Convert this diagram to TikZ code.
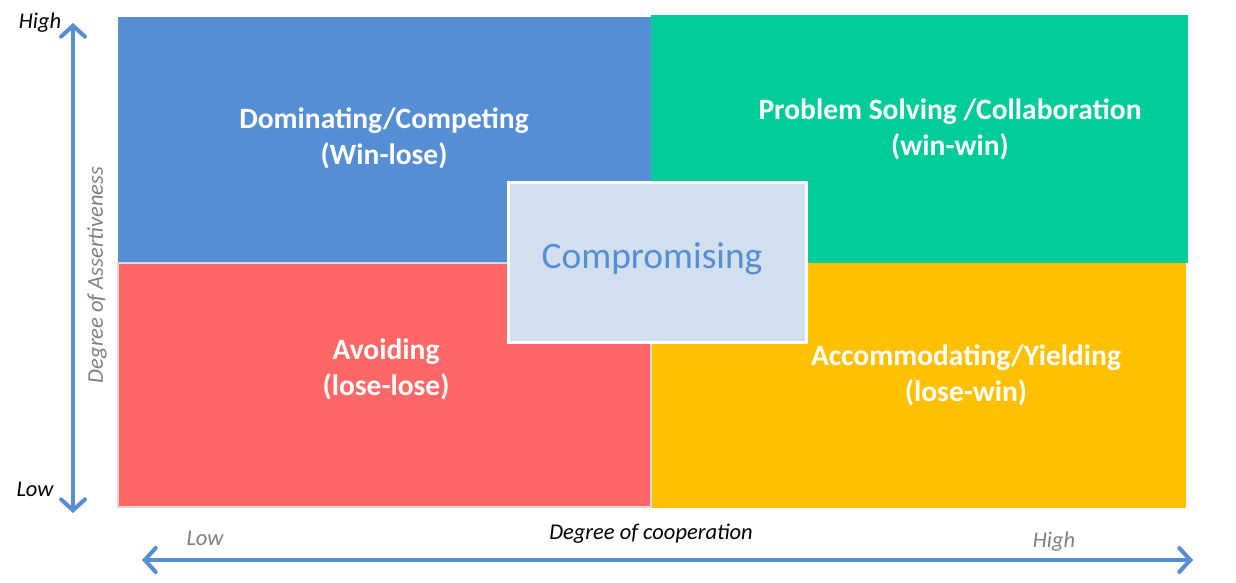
\documentclass[tikz,border=0pt]{standalone}
\usepackage{fontspec}
\setmainfont{Carlito}
\usetikzlibrary{arrows.meta}
\definecolor{qblue}{HTML}{558ED5}
\definecolor{qgreen}{HTML}{00CC99}
\definecolor{qred}{HTML}{FF6666}
\definecolor{qyellow}{HTML}{FFC000}
\definecolor{compfill}{HTML}{D2DFEE}
\definecolor{labgray}{HTML}{7F7F7F}
\tikzset{
  quad/.style={anchor=north west, inner sep=0pt, outer sep=0pt, draw=none},
  qtext/.style={text=white, font=\fontsize{29.5}{36}\selectfont\bfseries, align=center, inner sep=0pt},
  axislab/.style={font=\fontsize{22.5}{26}\selectfont\itshape, inner sep=0pt},
  axisarrow/.style={draw=qblue, line width=4pt, line cap=round, {Straight Barb[length=11pt,width=24pt,line width=4pt,line cap=round]}-{Straight Barb[length=11pt,width=24pt,line width=4pt,line cap=round]}}
}
\begin{document}
\begin{tikzpicture}[x=1pt,y=-1pt]
\useasboundingbox (0,0) rectangle (1236,583);
% quadrants
\node[quad, fill=qblue, minimum width=533pt, minimum height=246pt] (dom) at (118,17) {};
\node[quad, fill=qgreen, minimum width=537pt, minimum height=248pt] (col) at (651,15) {};
\node[quad, fill=qred, draw=black!15, line width=1.5pt, minimum width=533pt, minimum height=244pt] (avo) at (118,263) {};
\node[quad, fill=qyellow, minimum width=534pt, minimum height=245pt] (acc) at (652,263) {};
% compromising
\node[fill=compfill, draw=white, line width=3pt, minimum width=298pt, minimum height=160pt, inner sep=0pt] (comp) at (657.5,262.5) {};
\node[text=qblue, font=\fontsize{37.5}{40}\selectfont, inner sep=0pt] (comptext) at (652,259) {Compromising};
% quadrant texts
\node[qtext] (domtext) at (384,138) {Dominating/Competing\\(Win-lose)};
\node[qtext] (coltext) at (950,129) {Problem Solving /Collaboration\\(win-win)};
\node[qtext] (avotext) at (386,369) {Avoiding\\(lose-lose)};
\node[qtext] (acctext) at (966,375) {Accommodating/Yielding\\(lose-win)};
% axes
\coordinate (vtop) at (73,23);
\coordinate (vbot) at (73,513);
\coordinate (hleft) at (142,560);
\coordinate (hright) at (1193,560);
\draw[axisarrow] (vbot) -- (vtop);
\draw[axisarrow] (hleft) -- (hright);
% axis labels
\node[axislab, text=black] (vhigh) at (40,23) {High};
\node[axislab, text=black] (vlow) at (35,489) {Low};
\node[axislab, text=labgray] (hlow) at (205,538) {Low};
\node[axislab, text=labgray] (hhigh) at (1054,542) {High};
\node[axislab, text=black] (hlab) at (651,534) {Degree of cooperation};
\node[axislab, text=labgray, rotate=90] (vlab) at (97,275) {Degree of Assertiveness};
\end{tikzpicture}
\end{document}
